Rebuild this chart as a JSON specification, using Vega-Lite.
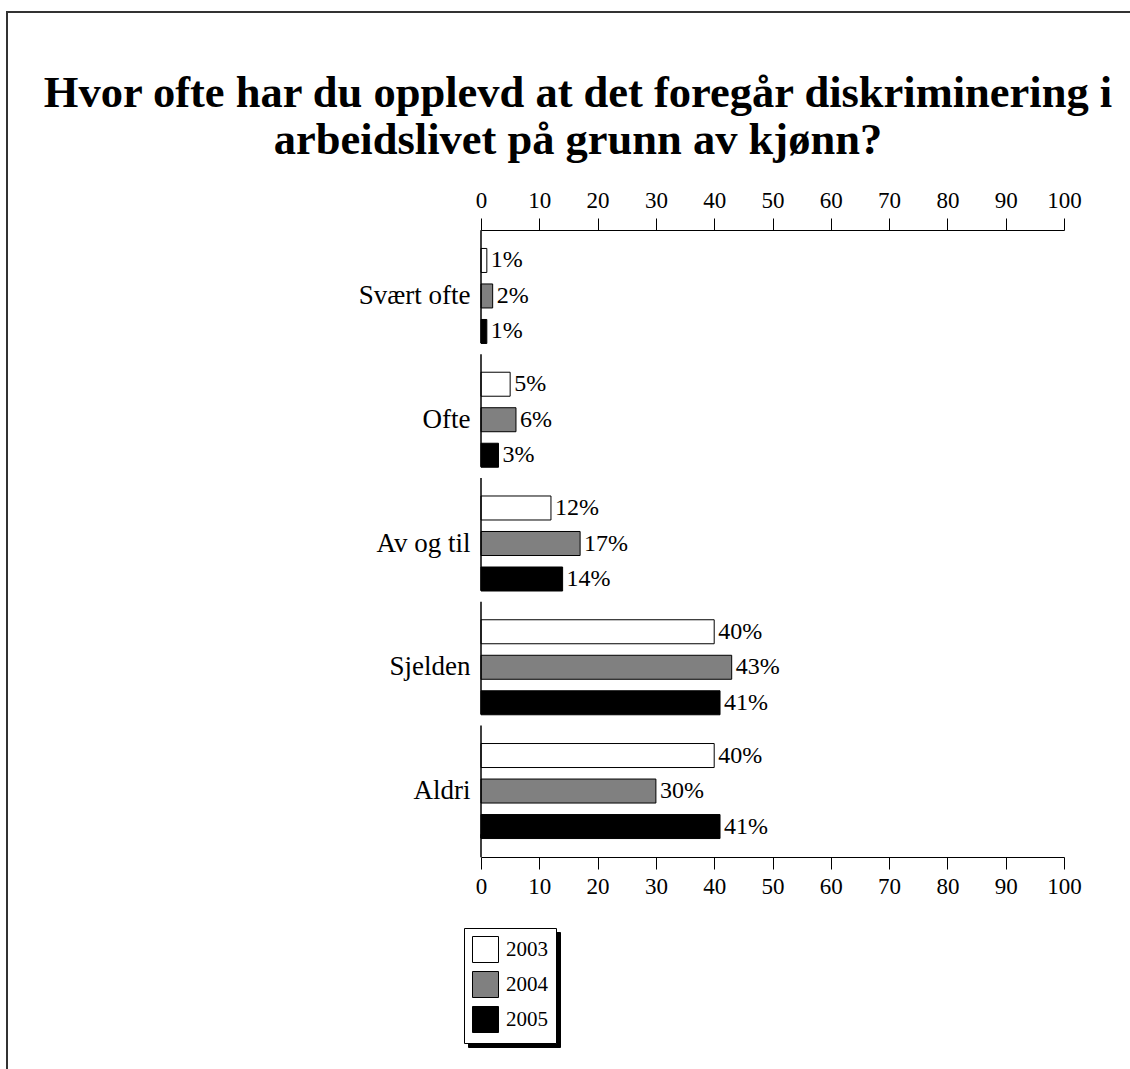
{
  "$schema": "https://vega.github.io/schema/vega-lite/v6.json",
  "autosize": {"type": "none"},
  "padding": {"left": 7, "top": 12, "right": 0, "bottom": 0},
  "width": 1130,
  "height": 1069,
  "background": "white",
  "config": {
    "font": "Liberation Serif",
    "view": {"stroke": "#333333", "strokeWidth": 2},
    "axis": {"labelColor": "black", "domainColor": "black", "tickColor": "black", "labelFont": "Liberation Serif", "grid": false},
    "legend": {"labelFont": "Liberation Serif"}
  },
  "title": {
    "text": ["Hvor ofte har du opplevd at det foregår diskriminering i", "arbeidslivet på grunn av kjønn?"],
    "fontSize": 44.5,
    "fontWeight": "bold",
    "font": "Liberation Serif",
    "color": "black",
    "anchor": "middle",
    "frame": "group",
    "lineHeight": 47,
    "offset": -151,
    "dx": 6
  },
  "data": {
    "values": [
      {"cat": "Svært ofte", "year": "2003", "v": 1},
      {"cat": "Svært ofte", "year": "2004", "v": 2},
      {"cat": "Svært ofte", "year": "2005", "v": 1},
      {"cat": "Ofte", "year": "2003", "v": 5},
      {"cat": "Ofte", "year": "2004", "v": 6},
      {"cat": "Ofte", "year": "2005", "v": 3},
      {"cat": "Av og til", "year": "2003", "v": 12},
      {"cat": "Av og til", "year": "2004", "v": 17},
      {"cat": "Av og til", "year": "2005", "v": 14},
      {"cat": "Sjelden", "year": "2003", "v": 40},
      {"cat": "Sjelden", "year": "2004", "v": 43},
      {"cat": "Sjelden", "year": "2005", "v": 41},
      {"cat": "Aldri", "year": "2003", "v": 40},
      {"cat": "Aldri", "year": "2004", "v": 30},
      {"cat": "Aldri", "year": "2005", "v": 41}
    ]
  },
  "resolve": {"axis": {"x": "independent"}},
  "layer": [
    {
      "mark": {"type": "bar", "stroke": "black", "strokeWidth": 1},
      "encoding": {
        "y": {
          "field": "cat", "type": "nominal",
          "scale": {"domain": ["Svært ofte", "Ofte", "Av og til", "Sjelden", "Aldri"], "range": [218, 845], "paddingInner": 0, "paddingOuter": 0.033},
          "axis": {"title": null, "domain": false, "ticks": false, "labelFontSize": 27, "labelPadding": 11, "offset": -474, "labelColor": "black"}
        },
        "yOffset": {
          "field": "year", "type": "nominal",
          "scale": {"domain": ["2003", "2004", "2005"], "paddingInner": 0.324, "paddingOuter": 0.405}
        },
        "x": {
          "field": "v", "type": "quantitative",
          "scale": {"domain": [0, 100], "range": [474, 1057], "nice": false, "zero": true},
          "axis": {"orient": "bottom", "offset": -224, "title": null, "values": [0, 10, 20, 30, 40, 50, 60, 70, 80, 90, 100], "tickSize": 12, "tickWidth": 1, "labelFontSize": 23, "labelPadding": 6, "labelFlush": false}
        },
        "fill": {
          "field": "year", "type": "nominal",
          "scale": {"domain": ["2003", "2004", "2005"], "range": ["#ffffff", "#808080", "#000000"]},
          "legend": {
            "title": null, "orient": "none", "legendX": 457, "legendY": 916,
            "fillColor": "white", "strokeColor": "black", "padding": 8,
            "symbolType": "square", "symbolSize": 676, "symbolStrokeColor": "black", "symbolStrokeWidth": 1,
            "labelFontSize": 21, "labelColor": "black", "rowPadding": 4, "labelOffset": 7, "zindex": 2
          }
        }
      }
    },
    {
      "transform": [{"calculate": "datum.v + '%'", "as": "label"}, {"calculate": "toNumber(datum.year)", "as": "yr"}],
      "mark": {"type": "text", "align": "left", "baseline": "middle", "dx": 4, "fontSize": 24},
      "encoding": {
        "y": {
          "field": "cat", "type": "nominal",
          "scale": {"domain": ["Svært ofte", "Ofte", "Av og til", "Sjelden", "Aldri"], "range": [218, 845], "paddingInner": 0, "paddingOuter": 0.033},
          "axis": {"title": null, "domain": false, "ticks": false, "labelFontSize": 27, "labelPadding": 11, "offset": -474, "labelColor": "black"}
        },
        "yOffset": {
          "field": "year", "type": "nominal",
          "scale": {"domain": ["2003", "2004", "2005"], "paddingInner": 0.324, "paddingOuter": 0.405}
        },
        "x": {
          "field": "v", "type": "quantitative",
          "axis": {"orient": "top", "offset": -218, "title": null, "values": [0, 10, 20, 30, 40, 50, 60, 70, 80, 90, 100], "tickSize": 12, "tickWidth": 1, "labelFontSize": 23, "labelPadding": 6, "labelFlush": false}
        },
        "color": {
          "field": "yr", "type": "nominal",
          "scale": {"domain": [2003, 2004, 2005], "range": ["#000000", "#000000", "#000000"]},
          "legend": {
            "title": null, "orient": "none", "legendX": 461, "legendY": 920,
            "fillColor": "black", "strokeColor": "black", "padding": 8,
            "symbolType": "square", "symbolSize": 676, "symbolStrokeColor": "black", "symbolStrokeWidth": 1,
            "labelFontSize": 21, "labelColor": "black", "labelExpr": "''", "rowPadding": 4, "labelOffset": 49, "zindex": 1
          }
        },
        "text": {"field": "label"}
      }
    },
    {
      "data": {"values": [{"cat": "Svært ofte"}, {"cat": "Ofte"}, {"cat": "Av og til"}, {"cat": "Sjelden"}, {"cat": "Aldri"}]},
      "mark": {"type": "rule", "color": "black", "strokeWidth": 1.5},
      "encoding": {
        "x": {"datum": 0, "type": "quantitative", "axis": null},
        "y": {
          "field": "cat", "type": "nominal", "bandPosition": -0.03,
          "scale": {"domain": ["Svært ofte", "Ofte", "Av og til", "Sjelden", "Aldri"], "range": [218, 845], "paddingInner": 0, "paddingOuter": 0.033},
          "axis": {"title": null, "domain": false, "ticks": false, "labelFontSize": 27, "labelPadding": 11, "offset": -474, "labelColor": "black"}
        },
        "y2": {"field": "cat", "bandPosition": 0.88}
      }
    },
    {
      "data": {"values": [{"cat": "Aldri"}]},
      "mark": {"type": "rule", "color": "black", "strokeWidth": 1.5},
      "encoding": {
        "x": {"datum": 0, "type": "quantitative", "axis": null},
        "y": {
          "field": "cat", "type": "nominal", "bandPosition": 0.85,
          "scale": {"domain": ["Svært ofte", "Ofte", "Av og til", "Sjelden", "Aldri"], "range": [218, 845], "paddingInner": 0, "paddingOuter": 0.033},
          "axis": {"title": null, "domain": false, "ticks": false, "labelFontSize": 27, "labelPadding": 11, "offset": -474, "labelColor": "black"}
        },
        "y2": {"field": "cat", "bandPosition": 1.035}
      }
    }
  ]
}
